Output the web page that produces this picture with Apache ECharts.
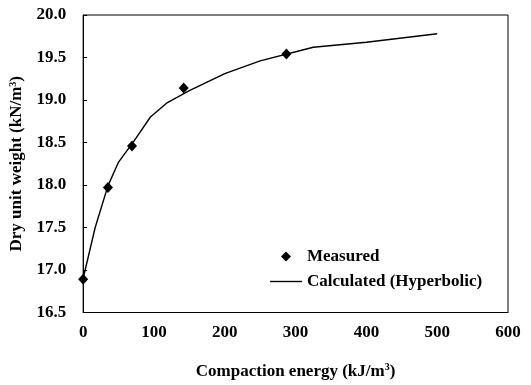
<!DOCTYPE html>
<html>
<head>
<meta charset="utf-8">
<script src="https://cdn.jsdelivr.net/npm/echarts@6/dist/echarts.min.js"></script>
<style>html,body{margin:0;padding:0;background:#fff}#c{width:531px;height:385px}</style>
</head>
<body>
<div id="c"></div>
<script>
// Measured points
var measuredEnergy = [0, 35, 69, 142, 287];
var measuredWeight = [16.89, 17.97, 18.46, 19.14, 19.54];
// Calculated (Hyperbolic) curve vertices
var calcEnergy = [0, 17, 35, 50, 72, 95, 119, 150, 200, 250, 325, 400, 500];
var calcWeight = [16.90, 17.50, 17.99, 18.27, 18.52, 18.80, 18.97, 19.11, 19.31, 19.46, 19.62, 19.68, 19.78];
// Axis ticks
var xTicks = [0, 100, 200, 300, 400, 500, 600];
var yTicks = [16.5, 17.0, 17.5, 18.0, 18.5, 19.0, 19.5, 20.0];

var font = 'Liberation Serif';
var chart = echarts.init(document.getElementById('c'));
function pairs(a, b) { return a.map(function (v, i) { return [v, b[i]]; }); }

chart.setOption({
  animation: false,
  backgroundColor: '#fff',
  grid: { left: 82, right: 23, top: 15, bottom: 72, show: true, borderColor: '#000', borderWidth: 1 },
  xAxis: {
    type: 'value', min: xTicks[0], max: xTicks[xTicks.length - 1], interval: 100,
    axisLine: { lineStyle: { color: '#000', width: 1 } },
    axisTick: { show: false },
    splitLine: { show: false },
    axisLabel: { color: '#000', fontFamily: font, fontWeight: 'bold', fontSize: 17, margin: 12 },
    name: 'Compaction energy (kJ/m{sup|3})',
    nameLocation: 'middle', nameGap: 50,
    nameTextStyle: { color: '#000', fontFamily: font, fontWeight: 'bold', fontSize: 17,
      rich: { sup: { fontSize: 10, verticalAlign: 'top', padding: [0, 0, 8, 0], fontFamily: font, fontWeight: 'bold', color: '#000' } } }
  },
  yAxis: {
    type: 'value', min: yTicks[0], max: yTicks[yTicks.length - 1], interval: 0.5,
    axisLine: { lineStyle: { color: '#000', width: 1 } },
    axisTick: { show: true, inside: true, length: 4, lineStyle: { color: '#000' } },
    splitLine: { show: false },
    axisLabel: { color: '#000', fontFamily: font, fontWeight: 'bold', fontSize: 17, margin: 17,
      formatter: function (v) { return v.toFixed(1); } },
    name: 'Dry unit weight (kN/m{sup|3})',
    nameLocation: 'middle', nameGap: 47, nameRotate: 90,
    nameTextStyle: { color: '#000', fontFamily: font, fontWeight: 'bold', fontSize: 17,
      rich: { sup: { fontSize: 10, verticalAlign: 'top', padding: [0, 0, 8, 0], fontFamily: font, fontWeight: 'bold', color: '#000' } } }
  },
  legend: [
    {
      data: [{ name: 'Measured', icon: 'diamond', itemStyle: { color: '#000', opacity: 1 } }],
      left: 276, top: 243, itemWidth: 10, itemHeight: 10,
      textStyle: { color: '#000', fontFamily: font, fontWeight: 'bold', fontSize: 17, padding: [0, 0, 0, 11] }
    },
    {
      data: [{ name: 'Calculated (Hyperbolic)', icon: 'rect', itemStyle: { color: '#000' } }],
      left: 265, top: 268, itemWidth: 32, itemHeight: 1.4,
      textStyle: { color: '#000', fontFamily: font, fontWeight: 'bold', fontSize: 17 }
    }
  ],
  series: [
    {
      name: 'Calculated (Hyperbolic)', type: 'line',
      data: pairs(calcEnergy, calcWeight),
      showSymbol: false, symbol: 'none',
      lineStyle: { color: '#000', width: 1.4 },
      itemStyle: { color: '#000' },
      z: 2
    },
    {
      name: 'Measured', type: 'scatter',
      data: pairs(measuredEnergy, measuredWeight),
      symbol: 'diamond', symbolSize: [10, 11],
      itemStyle: { color: '#000', opacity: 1 },
      z: 3
    }
  ]
});
</script>
</body>
</html>
